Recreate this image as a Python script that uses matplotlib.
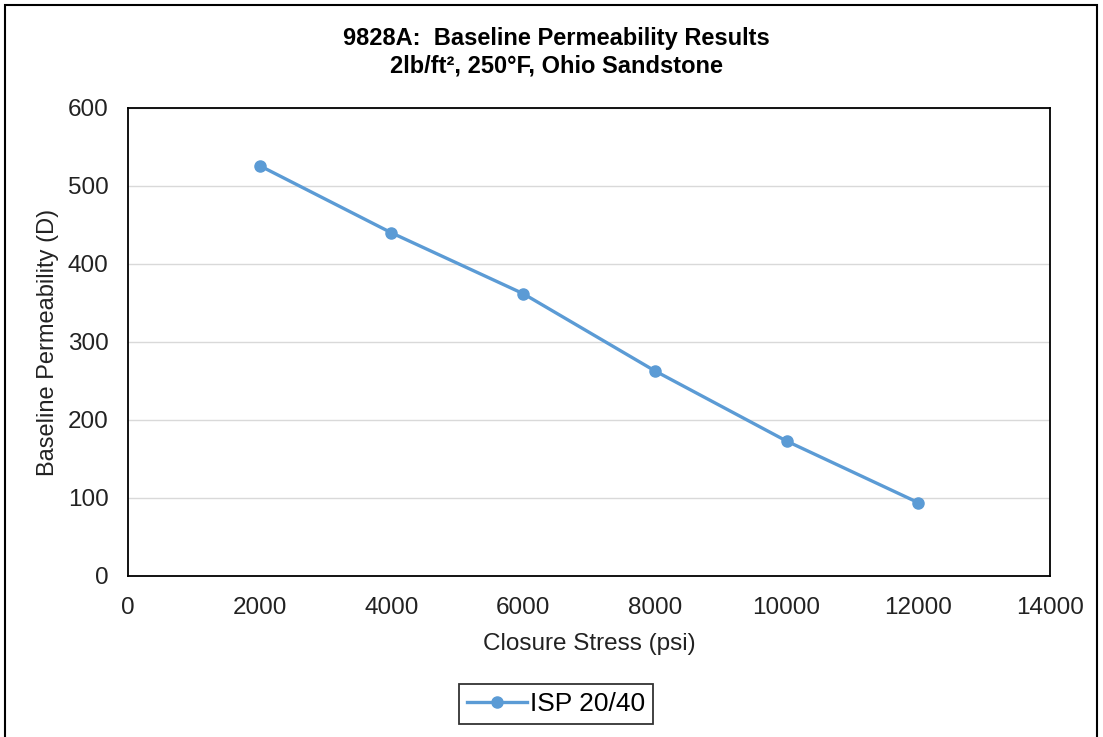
import matplotlib
matplotlib.use("Agg")
import matplotlib.pyplot as plt
from matplotlib.patches import Rectangle

closure_stress = [2000, 4000, 6000, 8000, 10000, 12000]
permeability = [526, 440, 362, 263, 173, 94]
series_name = "ISP 20/40"
x_ticks = [0, 2000, 4000, 6000, 8000, 10000, 12000, 14000]
y_ticks = [0, 100, 200, 300, 400, 500, 600]

plt.rcParams['font.family'] = ['Liberation Sans', 'DejaVu Sans']

fig = plt.figure(figsize=(11.03, 7.37), dpi=100)
fig.patches.append(Rectangle((5/1103, -0.05), 1092/1103, 1.05 - 5/737, transform=fig.transFigure,
                             fill=False, edgecolor='black', linewidth=1.5))
ax = fig.add_axes([128/1103, 1 - 576/737, (1050-128)/1103, (576-108)/737])
color = '#5B9BD5'
ax.plot(closure_stress, permeability, color=color, linewidth=2.4, marker='o', markersize=8, label=series_name, zorder=3)
ax.set_xlim(0, 14000)
ax.set_ylim(0, 600)
ax.set_xticks(x_ticks)
ax.set_yticks(y_ticks)
ax.tick_params(axis='y', length=0, labelsize=17.5, pad=14, colors='#222222')
ax.tick_params(axis='x', length=0, labelsize=17.5, pad=15, colors='#222222')
ax.grid(axis='y', color='#D9D9D9', linewidth=1)
ax.set_axisbelow(True)
for s in ax.spines.values():
    s.set_color('black')
    s.set_linewidth(1.3)
ax.set_xlabel('Closure Stress (psi)', fontsize=17.5, color='#222222', labelpad=10)
ax.set_ylabel('Baseline Permeability (D)', fontsize=17, color='#222222', labelpad=6)
fig.text(556/1103, 1 - 52/737, '9828A:  Baseline Permeability Results\n2lb/ft², 250°F, Ohio Sandstone',
         ha='center', va='center', fontsize=17, fontweight='bold', linespacing=1.25)
leg = fig.legend(loc='center', bbox_to_anchor=(556/1103, 1 - 704/737), fontsize=19, frameon=True,
                 fancybox=False, edgecolor='black', handlelength=2.3, borderpad=0.3, handletextpad=0.1,
                 borderaxespad=0)
leg.get_frame().set_linewidth(1.3)
fig.savefig('out.png', dpi=100)
